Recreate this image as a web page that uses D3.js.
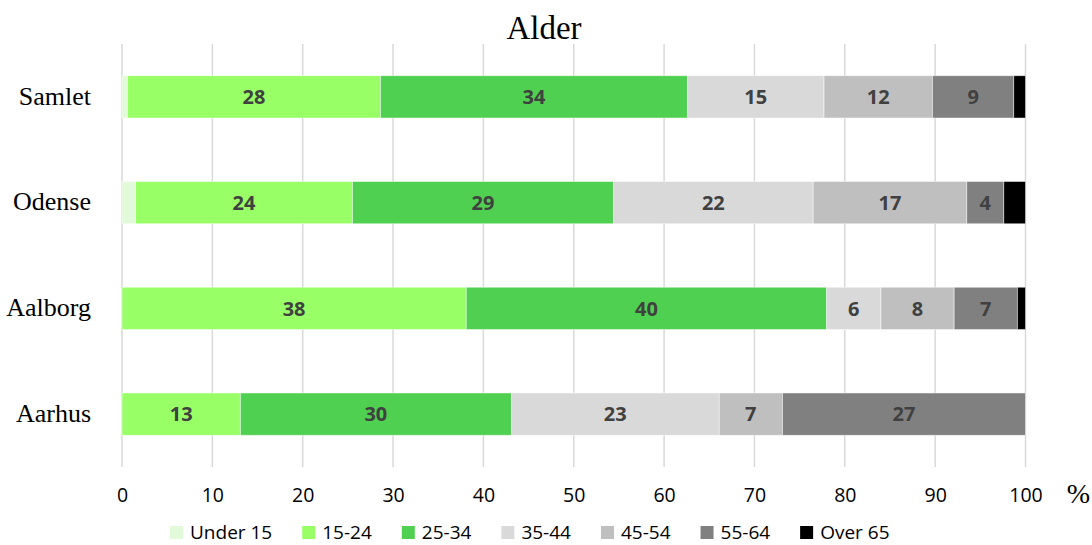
<!DOCTYPE html>
<html>
<head>
<meta charset="utf-8">
<script src="https://cdn.jsdelivr.net/npm/d3@7"></script>
<style>
  html, body { margin: 0; padding: 0; background: #ffffff; }
  svg { display: block; }
</style>
</head>
<body>
<svg id="chart" width="1092" height="545"></svg>
<script>
// Age distribution (%) per city, stacked to 100
const cities = ["Samlet", "Odense", "Aalborg", "Aarhus"];
const ageGroups = ["Under 15", "15-24", "25-34", "35-44", "45-54", "55-64", "Over 65"];
const under15 = [0.6, 1.5, 0.0, 0.0];
const age15to24 = [28.0, 24.0, 38.1, 13.1];
const age25to34 = [34.0, 28.9, 39.9, 30.0];
const age35to44 = [15.1, 22.1, 6.0, 23.0];
const age45to54 = [12.0, 17.0, 8.1, 7.0];
const age55to64 = [9.0, 4.1, 7.0, 26.9];
const over65 = [1.3, 2.4, 0.9, 0.0];
const xTicks = [0, 10, 20, 30, 40, 50, 60, 70, 80, 90, 100];
const colors = ["#e2fada", "#99ff66", "#50d050", "#d9d9d9", "#bfbfbf", "#808080", "#000000"];

const seriesValues = [under15, age15to24, age25to34, age35to44, age45to54, age55to64, over65];
const rows = cities.map((c, i) => {
  const r = { city: c };
  ageGroups.forEach((g, k) => { r[g] = seriesValues[k][i]; });
  return r;
});

const svg = d3.select("#chart");
const sansFont = "'Open Sans', 'Liberation Sans', sans-serif";
const serifFont = "'Liberation Serif', 'DejaVu Serif', serif";

const x = d3.scaleLinear().domain([0, 100]).range([122, 1025.5]);
const y = d3.scaleBand().domain(cities).range([44, 467]).paddingInner(0.6).paddingOuter(0.3);

// vertical gridlines
svg.append("g")
  .selectAll("line")
  .data(xTicks)
  .join("line")
  .attr("x1", d => x(d)).attr("x2", d => x(d))
  .attr("y1", 44).attr("y2", 467)
  .attr("stroke", "#d9d9d9")
  .attr("stroke-width", 1.5);

// stacked bars
const stack = d3.stack().keys(ageGroups);
const layers = stack(rows);

const layerG = svg.append("g")
  .selectAll("g")
  .data(layers)
  .join("g")
  .attr("fill", (d, i) => colors[i]);

layerG.selectAll("rect")
  .data(d => d.map(s => ({ s, city: s.data.city })))
  .join("rect")
  .attr("x", d => x(d.s[0]))
  .attr("width", d => Math.max(0, x(d.s[1]) - x(d.s[0])))
  .attr("y", d => y(d.city))
  .attr("height", y.bandwidth())
  .attr("stroke", "#ffffff")
  .attr("stroke-opacity", 0.6)
  .attr("stroke-width", 0.8);

// value labels inside segments
layerG.selectAll("text")
  .data(d => d.map(s => ({ s, city: s.data.city, v: s[1] - s[0] })).filter(d => d.v >= 3))
  .join("text")
  .attr("x", d => (x(d.s[0]) + x(d.s[1])) / 2)
  .attr("y", d => y(d.city) + y.bandwidth() / 2)
  .attr("dy", "0.36em")
  .attr("text-anchor", "middle")
  .attr("fill", "#404040")
  .attr("font-family", sansFont)
  .attr("font-weight", 700)
  .attr("font-size", 20)
  .text(d => d3.format(".0f")(d.v));

// x axis tick labels
const xAxis = d3.axisBottom(x).tickValues(xTicks).tickSize(0).tickPadding(0);
const xg = svg.append("g").attr("transform", "translate(0,488)").call(xAxis);
xg.select(".domain").remove();
xg.selectAll("text")
  .attr("font-family", sansFont)
  .attr("font-size", 19.5)
  .attr("fill", "#000000");

svg.append("text")
  .attr("x", x(100) + 53)
  .attr("y", 503)
  .attr("text-anchor", "middle")
  .attr("font-family", serifFont)
  .attr("font-size", 28)
  .attr("fill", "#000000")
  .text("%");

// y axis category labels
const yAxis = d3.axisLeft(y).tickSize(0).tickPadding(0);
const yg = svg.append("g").attr("transform", "translate(91,0)").call(yAxis);
yg.select(".domain").remove();
yg.selectAll("text")
  .attr("font-family", serifFont)
  .attr("font-size", 26)
  .attr("fill", "#000000")
  .attr("dy", "0.3em");

// title
svg.append("text")
  .attr("x", 544)
  .attr("y", 39)
  .attr("text-anchor", "middle")
  .attr("font-family", serifFont)
  .attr("font-size", 33)
  .attr("fill", "#000000")
  .text("Alder");

// legend
const legend = svg.append("g").attr("transform", "translate(170,0)");
let lx = 0;
ageGroups.forEach((g, i) => {
  const item = legend.append("g").attr("transform", `translate(${lx},0)`);
  item.append("rect")
    .attr("x", 0).attr("y", 526)
    .attr("width", 13).attr("height", 13)
    .attr("fill", colors[i]);
  const t = item.append("text")
    .attr("x", 20).attr("y", 539)
    .attr("font-family", sansFont)
    .attr("font-size", 19)
    .attr("fill", "#000000")
    .text(g);
  lx += 20 + t.node().getComputedTextLength() + 30;
});
</script>
</body>
</html>
